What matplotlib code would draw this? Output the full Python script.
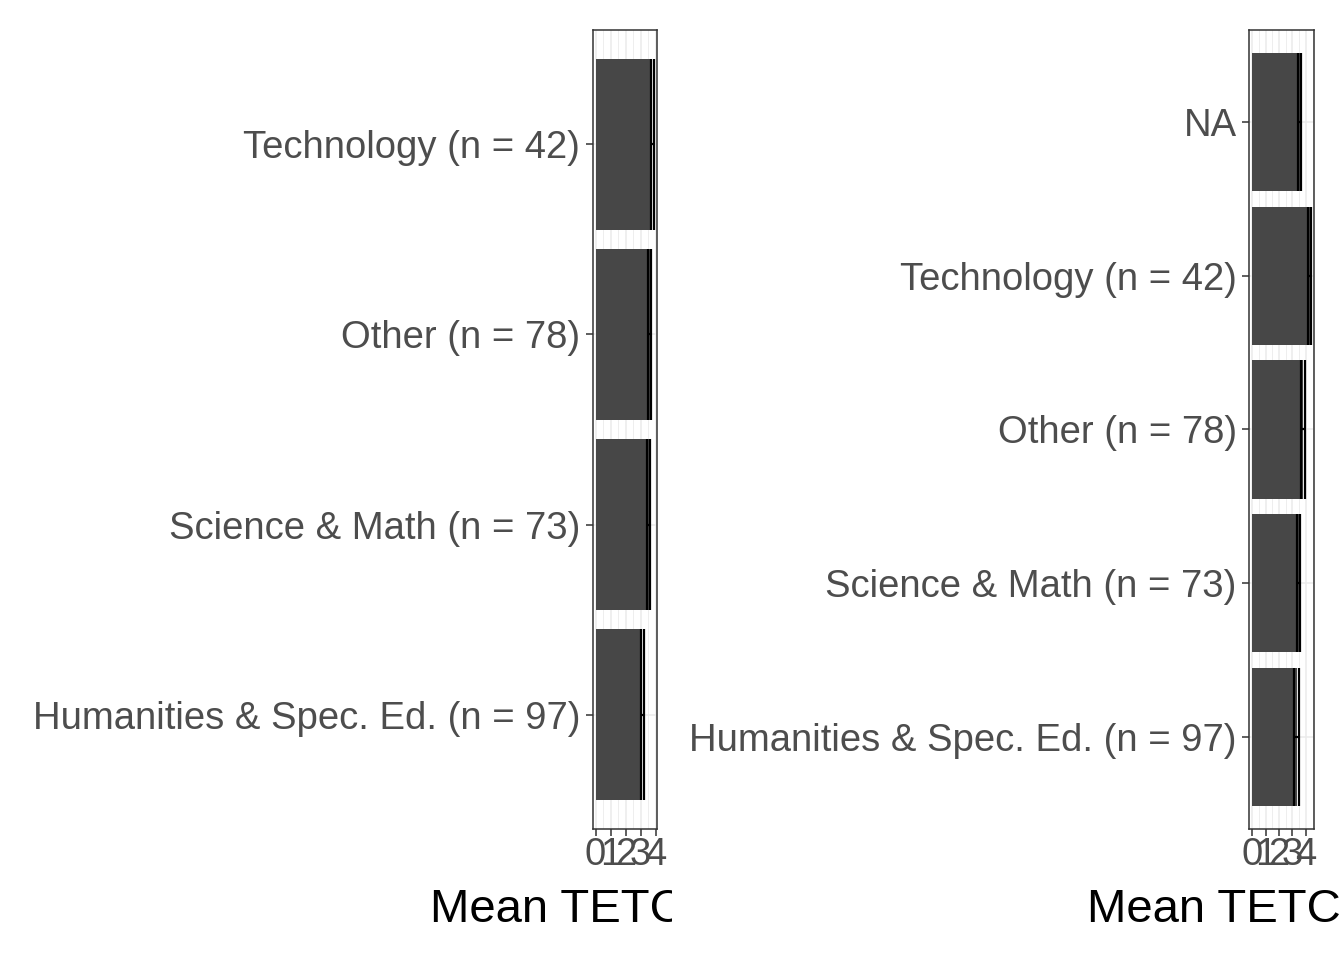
import matplotlib
matplotlib.use('Agg')
import matplotlib.pyplot as plt
from matplotlib.ticker import MultipleLocator
from matplotlib.transforms import Bbox
import numpy as np

plt.rcParams['font.family'] = ['Liberation Sans', 'DejaVu Sans']

# data
cats_left = ["Humanities & Spec. Ed. (n = 97)", "Science & Math (n = 73)",
             "Other (n = 78)", "Technology (n = 42)"]
means_left = [3.11, 3.53, 3.61, 3.78]
se_left = [0.11, 0.10, 0.11, 0.10]

cats_right = ["Humanities & Spec. Ed. (n = 97)", "Science & Math (n = 73)",
              "Other (n = 78)", "Technology (n = 42)", "NA"]
means_right = [3.31, 3.46, 3.81, 4.29, 3.55]
se_right = [0.17, 0.13, 0.14, 0.10, 0.12]

x_ticks = [0, 1, 2, 3, 4]
x_title = "Mean TETC Score"

W, H = 1344, 960
fig = plt.figure(figsize=(W / 100, H / 100), dpi=100)

BAR = '#474747'
GRID = '#EBEBEB'
TXT = '#4D4D4D'


def panel(rect, cats, means, ses, clip_x0, clip_x1):
    ax = fig.add_axes(rect)
    y = np.arange(1, len(cats) + 1)
    means = np.array(means)
    ses = np.array(ses)
    ax.barh(y, means, height=0.9, color=BAR, zorder=2)
    lo = means - ses
    hi = means + ses
    ax.vlines(lo, y - 0.45, y + 0.45, color='black', lw=1.6, zorder=3)
    ax.vlines(hi, y - 0.45, y + 0.45, color='black', lw=1.6, zorder=3)
    ax.hlines(y, lo, hi, color='black', lw=1.6, zorder=3)

    top = hi.max()
    pad = 0.05 * top
    ax.set_xlim(-pad, top + pad)
    ax.set_ylim(0.4, len(cats) + 0.6)

    ax.set_xticks(x_ticks)
    ax.xaxis.set_minor_locator(MultipleLocator(0.5))
    ax.set_yticks(y)
    ax.set_yticklabels(cats)
    ax.grid(True, which='major', color=GRID, lw=1.1, zorder=0)
    ax.grid(True, which='minor', axis='x', color=GRID, lw=0.6, zorder=0)
    ax.set_axisbelow(True)
    ax.tick_params(axis='both', which='major', labelsize=27.5, labelcolor=TXT,
                   color='#333333', length=5, width=1.1, pad=4)
    ax.tick_params(axis='x', which='major', pad=1)
    ax.tick_params(which='minor', length=0)
    for s in ax.spines.values():
        s.set_color('#333333')
        s.set_linewidth(1.1)

    # axis title, clipped to its own half of the figure like the original
    cx = (rect[0] + rect[2] / 2)
    t = fig.text(cx, (H - 922) / H, x_title, ha='center', va='baseline',
                 fontsize=34, color='black')
    t.set_clip_box(Bbox.from_extents(clip_x0, 0, clip_x1, H))
    t.set_clip_on(True)
    return ax


bottom = (H - 829) / H
height = 799 / H
panel([592.7 / W, bottom, 64 / W, height], cats_left, means_left, se_left, 0, 672)
panel([1249.3 / W, bottom, 64.7 / W, height], cats_right, means_right, se_right, 672, W)

fig.savefig('out.png', dpi=100)
